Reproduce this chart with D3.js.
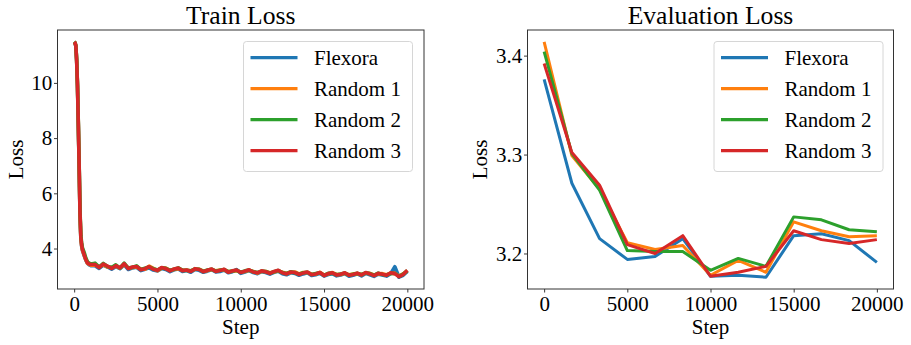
<!DOCTYPE html>
<html>
<head>
<meta charset="utf-8">
<script src="https://cdn.jsdelivr.net/npm/d3@7/dist/d3.min.js"></script>
<style>
  html, body { margin: 0; padding: 0; background: #fff; }
  svg { display: block; }
  text { font-family: "Liberation Serif", "Times New Roman", serif; fill: #000; }
</style>
</head>
<body>
<svg id="chart" width="911" height="345"></svg>
<script>
// ---------------- DATA ----------------
const seriesNames = ["Flexora", "Random 1", "Random 2", "Random 3"];
const seriesColors = ["#1f77b4", "#ff7f0e", "#2ca02c", "#d62728"];

const trainSteps = [
  0, 50, 100, 150, 200, 250, 300, 350, 400, 450, 500, 600, 700, 800, 900, 1000,
  1250, 1500, 1750, 2000, 2250, 2500, 2750, 3000, 3250, 3500,
  3750, 4000, 4250, 4500, 4750, 5000, 5250, 5500, 5750, 6000,
  6250, 6500, 6750, 7000, 7250, 7500, 7750, 8000, 8250, 8500,
  8750, 9000, 9250, 9500, 9750, 10000, 10250, 10500, 10750, 11000,
  11250, 11500, 11750, 12000, 12250, 12500, 12750, 13000, 13250, 13500,
  13750, 14000, 14250, 14500, 14750, 15000, 15250, 15500, 15750, 16000,
  16250, 16500, 16750, 17000, 17250, 17500, 17750, 18000, 18250, 18500,
  18750, 19000, 19250, 19500, 19750, 20000
];

const trainFlexora = [
  11.47, 11.44, 11.34, 10.80, 9.85, 8.45, 6.95, 5.25, 4.40, 4.08, 3.92, 3.74, 3.58, 3.46, 3.41, 3.38,
  3.38, 3.28, 3.40, 3.33, 3.25, 3.34, 3.27, 3.41, 3.24, 3.30,
  3.32, 3.20, 3.25, 3.30, 3.22, 3.19, 3.28, 3.24, 3.16, 3.23,
  3.26, 3.17, 3.20, 3.14, 3.24, 3.21, 3.14, 3.18, 3.23, 3.15,
  3.17, 3.22, 3.12, 3.16, 3.24, 3.10, 3.15, 3.20, 3.13, 3.09,
  3.16, 3.13, 3.07, 3.14, 3.18, 3.09, 3.05, 3.12, 3.10, 3.03,
  3.08, 3.12, 3.02, 3.05, 3.10, 3.00, 3.06, 3.09, 3.01, 3.04,
  3.09, 3.00, 3.03, 3.08, 3.01, 3.10, 3.05, 2.99, 3.07, 3.04,
  3.00, 3.09, 3.34, 2.96, 3.03, 3.17
];
const trainRandom1 = [
  11.48, 11.45, 11.35, 10.82, 9.90, 8.50, 7.00, 5.30, 4.42, 4.10, 3.94, 3.77, 3.60, 3.47, 3.43, 3.40,
  3.40, 3.34, 3.41, 3.33, 3.31, 3.36, 3.29, 3.42, 3.30, 3.31,
  3.33, 3.26, 3.25, 3.36, 3.28, 3.20, 3.29, 3.29, 3.21, 3.24,
  3.27, 3.22, 3.21, 3.19, 3.25, 3.25, 3.18, 3.20, 3.24, 3.19,
  3.22, 3.23, 3.16, 3.18, 3.20, 3.15, 3.17, 3.21, 3.17, 3.11,
  3.17, 3.17, 3.12, 3.15, 3.19, 3.14, 3.10, 3.13, 3.15, 3.08,
  3.13, 3.13, 3.07, 3.07, 3.14, 3.04, 3.08, 3.13, 3.06, 3.06,
  3.10, 3.05, 3.08, 3.09, 3.06, 3.11, 3.10, 3.04, 3.08, 3.09,
  3.05, 3.10, 3.11, 3.00, 3.08, 3.19
];
const trainRandom2 = [
  11.49, 11.46, 11.36, 10.85, 9.95, 8.55, 7.05, 5.40, 4.48, 4.20, 4.02, 3.86, 3.66, 3.52, 3.47, 3.44,
  3.47, 3.33, 3.46, 3.35, 3.31, 3.41, 3.29, 3.47, 3.29, 3.32,
  3.37, 3.24, 3.29, 3.33, 3.27, 3.22, 3.30, 3.28, 3.21, 3.25,
  3.30, 3.21, 3.21, 3.19, 3.26, 3.25, 3.17, 3.22, 3.25, 3.18,
  3.21, 3.24, 3.16, 3.18, 3.21, 3.14, 3.19, 3.22, 3.16, 3.13,
  3.18, 3.17, 3.11, 3.16, 3.20, 3.13, 3.09, 3.16, 3.12, 3.07,
  3.12, 3.14, 3.06, 3.09, 3.12, 3.03, 3.10, 3.11, 3.05, 3.08,
  3.11, 3.04, 3.07, 3.10, 3.05, 3.12, 3.09, 3.03, 3.11, 3.06,
  3.04, 3.11, 3.10, 2.99, 3.07, 3.20
];
const trainRandom3 = [
  11.48, 11.45, 11.35, 10.80, 9.90, 8.50, 7.00, 5.30, 4.42, 4.12, 3.96, 3.78, 3.60, 3.48, 3.44, 3.42,
  3.42, 3.31, 3.44, 3.36, 3.28, 3.38, 3.30, 3.45, 3.27, 3.33,
  3.35, 3.23, 3.27, 3.34, 3.25, 3.21, 3.31, 3.27, 3.19, 3.26,
  3.29, 3.20, 3.22, 3.17, 3.27, 3.24, 3.16, 3.21, 3.26, 3.17,
  3.20, 3.25, 3.14, 3.19, 3.22, 3.13, 3.18, 3.23, 3.15, 3.12,
  3.19, 3.16, 3.10, 3.17, 3.21, 3.12, 3.08, 3.15, 3.13, 3.06,
  3.11, 3.15, 3.05, 3.08, 3.13, 3.02, 3.09, 3.12, 3.04, 3.07,
  3.12, 3.03, 3.06, 3.11, 3.04, 3.13, 3.08, 3.02, 3.10, 3.07,
  3.03, 3.12, 3.09, 2.98, 3.06, 3.21
];

const evalSteps = [0, 1667, 3333, 5000, 6667, 8333, 10000, 11667, 13333, 15000, 16667, 18333, 20000];
const evalFlexora = [3.376, 3.271, 3.215, 3.194, 3.197, 3.215, 3.177, 3.178, 3.176, 3.218, 3.220, 3.213, 3.191];
const evalRandom1 = [3.414, 3.299, 3.265, 3.211, 3.204, 3.208, 3.178, 3.193, 3.181, 3.232, 3.223, 3.217, 3.218];
const evalRandom2 = [3.404, 3.301, 3.264, 3.203, 3.202, 3.202, 3.183, 3.195, 3.187, 3.237, 3.234, 3.224, 3.222];
const evalRandom3 = [3.392, 3.302, 3.269, 3.209, 3.200, 3.218, 3.177, 3.181, 3.187, 3.223, 3.214, 3.210, 3.214];

const xTicks = [0, 5000, 10000, 15000, 20000];
const trainYTicks = [4, 6, 8, 10];
const evalYTicks = [3.2, 3.3, 3.4];

const trainTitle = "Train Loss";
const evalTitle = "Evaluation Loss";
const xLabel = "Step";
const yLabel = "Loss";

// ---------------- DRAW ----------------
const svg = d3.select("#chart");

function mplDomain(vals) {
  const lo = d3.min(vals), hi = d3.max(vals);
  const pad = (hi - lo) * 0.05;
  return [lo - pad, hi + pad];
}

function panel(opts) {
  const { left, right, top, bottom, steps, series, yTicks, yFmt, title,
          legendBox, lineWidth } = opts;
  const g = svg.append("g");
  const x = d3.scaleLinear().domain(mplDomain(steps)).range([left, right]);
  const allY = series.flat();
  const y = d3.scaleLinear().domain(mplDomain(allY)).range([bottom, top]);

  // lines
  const line = d3.line().x((d, i) => x(steps[i])).y(d => y(d));
  series.forEach((s, k) => {
    g.append("path")
      .datum(s)
      .attr("d", line)
      .attr("fill", "none")
      .attr("stroke", seriesColors[k])
      .attr("stroke-width", lineWidth)
      .attr("stroke-linejoin", "round")
      .attr("stroke-linecap", "butt");
  });

  // axes
  const xa = g.append("g")
    .attr("transform", `translate(0,${bottom})`)
    .call(d3.axisBottom(x).tickValues(xTicks).tickSize(3.5).tickPadding(3.5).tickFormat(d3.format("d")));
  const ya = g.append("g")
    .attr("transform", `translate(${left},0)`)
    .call(d3.axisLeft(y).tickValues(yTicks).tickSize(3.5).tickPadding(1.8).tickFormat(yFmt));
  [xa, ya].forEach(a => {
    a.select(".domain").remove();
    a.selectAll(".tick line").attr("stroke", "#222").attr("stroke-width", 0.9);
    a.selectAll(".tick text").style("font-family", '"Liberation Serif", serif')
      .style("font-size", "21px").attr("fill", "#000");
  });

  // frame
  g.append("rect")
    .attr("x", left).attr("y", top)
    .attr("width", right - left).attr("height", bottom - top)
    .attr("fill", "none").attr("stroke", "#333").attr("stroke-width", 1);

  // title & labels
  g.append("text")
    .attr("x", (left + right) / 2).attr("y", 24.3)
    .attr("text-anchor", "middle").style("font-size", "25.6px")
    .text(title);
  g.append("text")
    .attr("x", (left + right) / 2).attr("y", 333.5)
    .attr("text-anchor", "middle").style("font-size", "21px")
    .text(xLabel);
  g.append("text")
    .attr("transform", `translate(${opts.yLabelX},${(top + bottom) / 2}) rotate(-90)`)
    .attr("text-anchor", "middle").style("font-size", "21px")
    .text(yLabel);

  // legend
  const lb = legendBox;
  g.append("rect")
    .attr("x", lb.x).attr("y", lb.y).attr("width", lb.w).attr("height", lb.h)
    .attr("rx", 3).attr("ry", 3)
    .attr("fill", "#fff").attr("fill-opacity", 0.8)
    .attr("stroke", "#d6d6d6").attr("stroke-width", 1);
  seriesNames.forEach((name, k) => {
    const cy = lb.y + 16.2 + k * 31;
    g.append("line")
      .attr("x1", lb.x + 7).attr("x2", lb.x + 54)
      .attr("y1", cy).attr("y2", cy)
      .attr("stroke", seriesColors[k]).attr("stroke-width", 3.2);
    g.append("text")
      .attr("x", lb.x + 70.5).attr("y", cy + 7.6)
      .style("font-size", "21px")
      .text(name);
  });
}

panel({
  left: 57.5, right: 424, top: 30, bottom: 289,
  steps: trainSteps,
  series: [trainFlexora, trainRandom1, trainRandom2, trainRandom3],
  yTicks: trainYTicks, yFmt: d3.format("d"),
  title: trainTitle, yLabelX: 22.5, lineWidth: 3.6,
  legendBox: { x: 243.5, y: 41.5, w: 169, h: 130 }
});

panel({
  left: 527.5, right: 893.5, top: 30, bottom: 289,
  steps: evalSteps,
  series: [evalFlexora, evalRandom1, evalRandom2, evalRandom3],
  yTicks: evalYTicks, yFmt: d3.format(".1f"),
  title: evalTitle, yLabelX: 486.5, lineWidth: 3,
  legendBox: { x: 714, y: 41.5, w: 169, h: 130 }
});
</script>
</body>
</html>
